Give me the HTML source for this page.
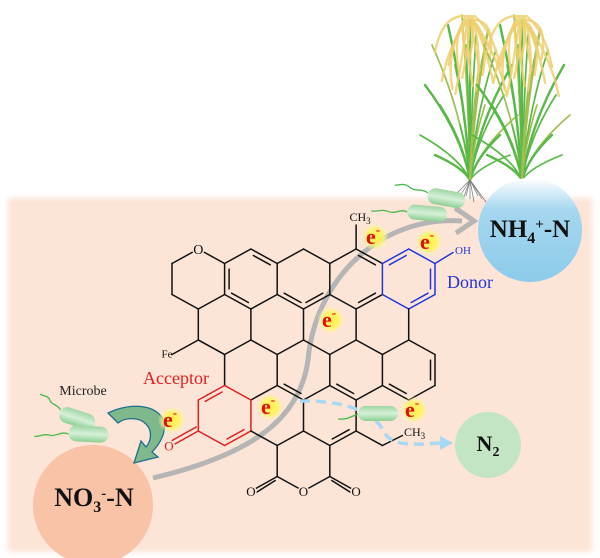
<!DOCTYPE html>
<html><head><meta charset="utf-8">
<style>
html,body{margin:0;padding:0;background:#fff;}
svg{display:block;}
text{font-family:"Liberation Serif",serif;}
</style></head>
<body>
<svg id="s" width="600" height="558" viewBox="0 0 600 558" xmlns="http://www.w3.org/2000/svg">
<defs>
<radialGradient id="glow"><stop offset="0" stop-color="#fff040"/><stop offset="0.6" stop-color="#fff36a" stop-opacity="0.9"/><stop offset="1" stop-color="#fff8c0" stop-opacity="0"/></radialGradient>
<linearGradient id="nh4" x1="0" y1="0" x2="0" y2="1"><stop offset="0" stop-color="#ffffff"/><stop offset="0.3" stop-color="#a6d7ef"/><stop offset="1" stop-color="#8ccbea"/></linearGradient>
<linearGradient id="cap" x1="0" y1="0" x2="0" y2="1"><stop offset="0" stop-color="#9fd6a4"/><stop offset="0.5" stop-color="#d6f0d8"/><stop offset="1" stop-color="#8ccf92"/></linearGradient>
<filter id="blur"><feGaussianBlur stdDeviation="3"/></filter>
</defs>
<rect x="8" y="198" width="584" height="354" fill="#fce3d5" filter="url(#blur)"/>
<rect x="12" y="202" width="576" height="346" fill="#fce4d6"/>

<g id="plants" fill="none" stroke-linecap="round"></g>

<circle cx="530" cy="230" r="52" fill="url(#nh4)"/>
<circle cx="93" cy="505" r="60" fill="#f8c3a6"/>
<circle cx="488" cy="445" r="33" fill="#c3e5c3"/>

<path d="M153,478 C 250,455 300,420 308,360 C 315,280 380,215 462,221" fill="none" stroke="#b5b5b5" stroke-width="5"/>
<path d="M455,208 L474,221 L456,233" fill="none" stroke="#b5b5b5" stroke-width="5"/>

<g id="mol" stroke-width="1.5" fill="none" stroke-linecap="round"></g>

<path d="M300,401 C 355,400 378,418 384,432 C 392,448 420,444 442,443" fill="none" stroke="#a9d9f2" stroke-width="3.5" stroke-dasharray="10,6"/>
<path d="M440,436 L453,443 L440,450 Z" fill="#a9d9f2"/>

<g id="mic"></g>

<path d="M108,413 C 130,402 160,404 164,423 C 166,435 158,446 152,452 L158,457 L134,463 L141,441 L146,447 C 152,440 152,430 146,424 C 138,416 124,418 118,423 Z" fill="#7fb88b" stroke="#1f6f8f" stroke-width="1.3"/>

<text x="530" y="237" font-size="25" font-weight="bold" text-anchor="middle" fill="#111">NH<tspan font-size="16" dy="6">4</tspan><tspan font-size="15" dy="-14">+</tspan><tspan dy="8">-N</tspan></text>
<text x="94" y="506" font-size="26" font-weight="bold" text-anchor="middle" fill="#111">NO<tspan font-size="16" dy="6">3</tspan><tspan font-size="15" dy="-14">-</tspan><tspan dy="8">-N</tspan></text>
<text x="488" y="451" font-size="22" font-weight="bold" text-anchor="middle" fill="#111">N<tspan font-size="14" dy="5">2</tspan></text>
<text x="176" y="384" font-size="18" text-anchor="middle" fill="#e02020">Acceptor</text>
<text x="470" y="288" font-size="18" text-anchor="middle" fill="#2236d8">Donor</text>
<text x="83" y="395" font-size="14" text-anchor="middle" fill="#222">Microbe</text>
<g id="es"></g>
</svg>
<script>
(function(){
var NS="http://www.w3.org/2000/svg";
function el(p,t,a,txt){var e=document.createElementNS(NS,t);for(var k in a)e.setAttribute(k,a[k]);if(txt!=null)e.textContent=txt;p.appendChild(e);return e;}
var mol=document.getElementById('mol');
function X(j){return 172+26.3*j;}
function Y(i){var k=Math.floor(i/2);var b=249+45.5*k;return i%2?b+14.5:b;}
function verts(c,r){return [[c,2*r],[c+1,2*r+1],[c+1,2*r+2],[c,2*r+3],[c-1,2*r+2],[c-1,2*r+1]];}
var rings=[[1,0],[3,0],[5,0],[7,0],[9,0],[2,1],[4,1],[6,1],[8,1],[3,2],[5,2],[7,2],[9,2],[2,3],[4,3],[6,3],[5,4]];
var edges={};
function key(a,b){var s=[a.join(','),b.join(',')].sort();return s.join('|');}
rings.forEach(function(rc){var v=verts(rc[0],rc[1]);for(var i=0;i<6;i++){var a=v[i],b=v[(i+1)%6];var col='#111';
 if(rc[0]==9&&rc[1]==0)col='#2236d8';if(rc[0]==2&&rc[1]==3)col='#e02020';
 var k=key(a,b);if(!edges[k]||col!='#111')edges[k]={a:a,b:b,c:col};}});
edges['x1']={a:[1,4],b:[2,5],c:'#111'};
for(var k in edges){var e=edges[k];el(mol,'line',{x1:X(e.a[0]),y1:Y(e.a[1]),x2:X(e.b[0]),y2:Y(e.b[1]),stroke:e.c});}
function dbl(c,r,i,col){var v=verts(c,r);var a=v[i],b=v[(i+1)%6];var cx=X(c),cy=(Y(2*r)+Y(2*r+3))/2;
 var x1=X(a[0]),y1=Y(a[1]),x2=X(b[0]),y2=Y(b[1]);var f=0.18;
 var ax=x1+(x2-x1)*f,ay=y1+(y2-y1)*f,bx=x2-(x2-x1)*f,by=y2-(y2-y1)*f;
 var mx=(x1+x2)/2,my=(y1+y2)/2;var dx=cx-mx,dy=cy-my,d=Math.sqrt(dx*dx+dy*dy);var o=4.5;
 el(mol,'line',{x1:ax+dx/d*o,y1:ay+dy/d*o,x2:bx+dx/d*o,y2:by+dy/d*o,stroke:col||'#111'});}
[[3,0,4],[3,0,0],[3,0,3],[5,0,3],[5,0,2],[7,0,0],[7,0,2],[9,2,1],[9,2,3],[5,2,3],[7,2,3],[6,3,2]].forEach(function(d){dbl(d[0],d[1],d[2]);});
dbl(9,0,5,'#2236d8');dbl(9,0,2,'#2236d8');dbl(9,0,1,'#2236d8');
dbl(2,3,5,'#e02020');dbl(2,3,2,'#e02020');
function line(x1,y1,x2,y2,c){el(mol,'line',{x1:x1,y1:y1,x2:x2,y2:y2,stroke:c||'#111'});}
line(X(7),Y(0),X(7),Y(0)-24);
line(X(10),Y(1),X(10)+18,Y(1)-11,'#2236d8');
line(X(1),Y(4),X(0),Y(5));
line(X(1),Y(8),X(0)+2,Y(9)-1,'#e02020');line(X(1)-2,Y(8)-4,X(0),Y(9)-5,'#e02020');
line(X(7),Y(8),X(8),Y(9));line(X(8),Y(9),X(8)+20,Y(9)-10);
line(X(4),Y(10),X(3)+4,Y(11)-2);line(X(4)-2,Y(10)+4,X(3)+3,Y(11)+3);
line(X(6),Y(10),X(7)-4,Y(11)-2);line(X(6)+2,Y(10)+4,X(7)-3,Y(11)+3);
function t(x,y,s,sz,col,anc,bg){if(bg)el(mol,'circle',{cx:x,cy:y-sz*0.35,r:sz*0.45,fill:'#fce4d6',stroke:'none'});
 return el(mol,'text',{x:x,y:y,'font-size':sz,fill:col||'#111','text-anchor':anc||'middle',stroke:'none'},s);}
t(X(1),Y(0)+5,'O',14,null,null,1);
t(X(5),Y(11)+5,'O',13,null,null,1);t(X(3),Y(11)+5,'O',13,null,null,1);t(X(7),Y(11)+5,'O',13,null,null,1);
t(X(0)-5,Y(5)+3,'Fe',11);
t(X(0)-3,Y(9)+5,'O',13,'#e02020',null,1);
var ch=t(X(7)+4,Y(0)-28,'CH',12);el(ch,'tspan',{'font-size':9,dy:3},'3');
var ch2=t(404,436,'CH',12,'#111','start');el(ch2,'tspan',{'font-size':9,dy:3},'3');
t(463,254,'OH',11,'#2236d8');
var es=document.getElementById('es');
[[375,237],[429,242],[331,320],[270,407],[172,420],[414,410]].forEach(function(p){
 el(es,'circle',{cx:p[0],cy:p[1],r:14,fill:'url(#glow)'});
 var tx=el(es,'text',{x:p[0]-2,y:p[1]+7,'font-size':22,'font-weight':'bold',fill:'#e01010','text-anchor':'middle'},'e');
 el(tx,'tspan',{'font-size':13,dy:-10},'-');});
var mic=document.getElementById('mic');
function cap(x,y,w,h,rot,tail){var g=el(mic,'g',{transform:'translate('+x+','+y+') rotate('+rot+')'});
 el(g,'path',{d:tail,fill:'none',stroke:'#4cb84c','stroke-width':1.3});
 el(g,'rect',{x:0,y:0,width:w,height:h,rx:h/2,fill:'url(#cap)'});}
cap(429,187,38,16,10,'M0,6 C-8,2 -12,8 -20,3 C-26,0 -30,4 -34,4');
cap(408,204,40,15,5,'M0,8 C-8,5 -12,12 -20,9 C-26,7 -30,11 -36,10');
cap(62,405,37,16,18,'M0,5 C-6,0 -10,4 -14,-2 C-18,-5 -22,-2 -24,-4');
cap(69,425,40,16,3,'M0,9 C-8,6 -12,13 -20,11 C-26,10 -30,14 -34,13');
cap(358,406,40,15,0,'M2,8 C-4,8 -8,14 -20,13');
var pl=document.getElementById('plants');
function plant(bx){
 var lv=[[-45,80],[-38,40],[-30,100],[-22,20],[-15,60],[-8,10],[0,15],[6,30],[12,55],[18,25],[26,45],[34,90],[42,60],[48,110],[-50,130],[30,130],[-10,120],[15,100],[-35,150],[40,150],[-4,40],[8,70]];
 lv.forEach(function(l,i){var tx=bx+l[0],ty=l[1]+5;var c=i%4==1?'#9fbf50':'#58b848';
  el(pl,'path',{d:'M'+bx+',180 Q'+(bx+l[0]*0.2)+','+((ty+180)/2)+' '+tx+','+ty,stroke:c,'stroke-width':i%3==0?2.4:1.7});});
 for(var i=0;i<18;i++){var x=bx-28+i*3.4,y=30+((i*37)%45);
  el(pl,'path',{d:'M'+(bx-6+i*0.7)+','+(16+i%3*4)+' Q'+x+','+(y-14)+' '+(x+(i%2?7:-7))+','+(y+22),stroke:'#edd070','stroke-width':2.4,opacity:0.85});}
 for(var i=0;i<9;i++){el(pl,'path',{d:'M'+bx+',180 L'+(bx-16+i*4)+','+(196+(i%3)*3),stroke:'#777','stroke-width':0.7});}
}
plant(470);plant(522);
})();
</script>
</body></html>
